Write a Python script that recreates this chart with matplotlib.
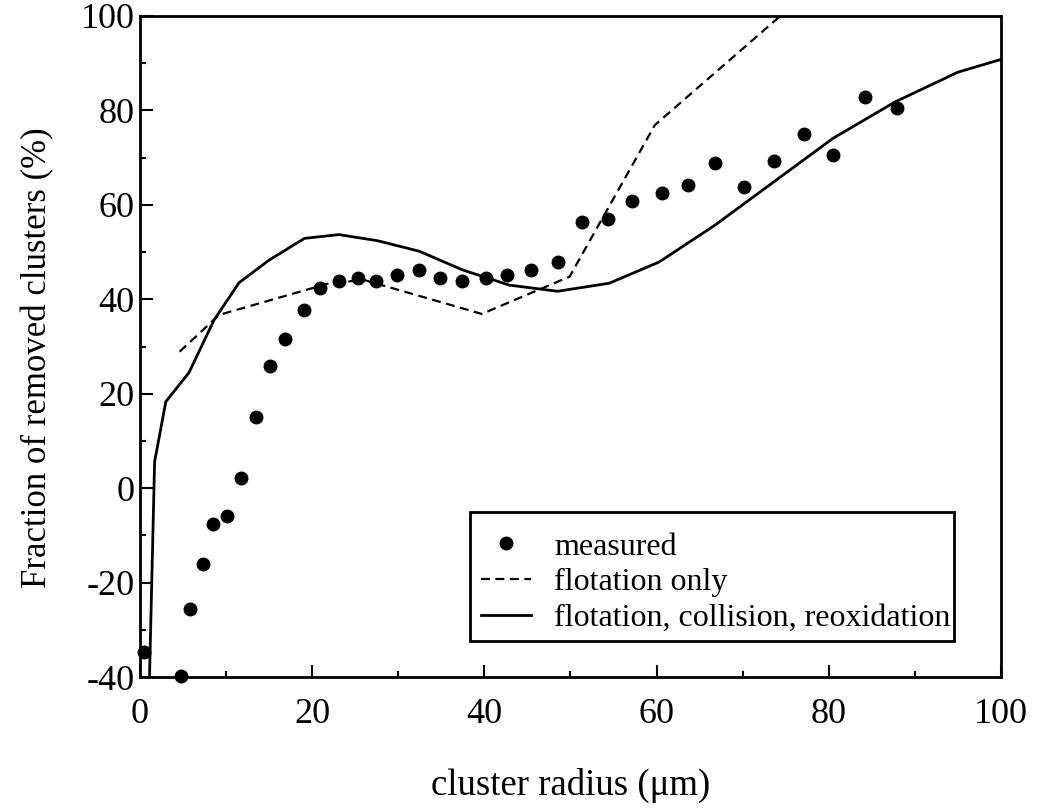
import matplotlib
matplotlib.use('Agg')
import matplotlib.pyplot as plt
from matplotlib.ticker import MultipleLocator
from matplotlib.patches import Rectangle

plt.rcParams['font.family'] = ['Liberation Serif', 'DejaVu Serif']
plt.rcParams['axes.unicode_minus'] = False

# measured removal fraction
meas_r = [0.5, 4.8, 5.8, 7.3, 8.5, 10.1, 11.7, 13.5, 15.1, 16.9, 19.1, 20.9,
          23.1, 25.3, 27.4, 29.9, 32.4, 34.9, 37.4, 40.2, 42.6, 45.4, 48.5,
          51.3, 54.4, 57.2, 60.6, 63.7, 66.8, 70.2, 73.6, 77.1, 80.5, 84.2, 87.9]
meas_f = [-34.7, -39.7, -25.6, -16.0, -7.5, -5.9, 2.1, 15.1, 25.9, 31.5, 37.7, 42.3,
          43.9, 44.5, 43.9, 45.1, 46.2, 44.5, 43.9, 44.5, 45.1, 46.2, 47.9,
          56.4, 56.9, 60.9, 62.6, 64.3, 68.8, 63.7, 69.3, 75.0, 70.5, 82.9, 80.6]

# model: flotation only
flot_r = [4.6, 9.2, 22.0, 26.0, 39.7, 49.9, 59.8, 74.5]
flot_f = [28.9, 36.7, 43.4, 44.1, 36.9, 44.8, 76.9, 100.2]

# model: flotation, collision, reoxidation
full_r = [1.1, 1.7, 3.0, 5.7, 8.6, 11.5, 15.0, 19.1, 23.1, 27.6, 32.4, 37.5,
          42.9, 48.5, 54.5, 60.3, 66.7, 80.5, 87.7, 95.0, 100.0]
full_f = [-40.5, 5.6, 18.3, 24.5, 35.6, 43.5, 48.3, 52.9, 53.7, 52.4, 50.2, 46.2,
          43.0, 41.7, 43.4, 47.9, 55.6, 74.1, 81.8, 88.1, 90.8]

fig = plt.figure(figsize=(10.43, 8.08), dpi=100)
ax = fig.add_axes([0.1342, 0.1621, 0.8255, 0.8181])

ax.plot(meas_r, meas_f, 'o', color='black', markersize=9, label='measured', clip_on=False)
ax.plot(flot_r, flot_f, color='black', lw=1.6, linestyle=(0, (4, 2.5)), label='flotation only')
ax.plot(full_r, full_f, color='black', lw=2, label='flotation, collision, reoxidation')

ax.set_xlim(0, 100)
ax.set_ylim(-40, 100)
ax.xaxis.set_major_locator(MultipleLocator(20))
ax.xaxis.set_minor_locator(MultipleLocator(10))
ax.yaxis.set_major_locator(MultipleLocator(20))
ax.yaxis.set_minor_locator(MultipleLocator(10))
ax.tick_params(which='both', direction='in', top=False, right=False, width=1.5, labelsize=26)
ax.tick_params(which='major', length=9)
ax.tick_params(which='minor', length=4.5)
ax.tick_params(axis='x', pad=15)
ax.tick_params(axis='y', pad=4)
for sp in ax.spines.values():
    sp.set_linewidth(2)

ax.set_xlabel('cluster radius (μm)', fontsize=26.5, labelpad=27)
ax.set_ylabel('Fraction of removed clusters (%)', fontsize=25, labelpad=19)
ax.yaxis.label.set_y(0.483)

# legend without its own frame, box drawn separately
leg = ax.legend(loc='upper left', bbox_to_anchor=(0.3961, 0.2190), borderaxespad=0,
                fontsize=23, frameon=False, handlelength=1.55,
                labelspacing=0.2, borderpad=0, handletextpad=0.75)
ax.add_patch(Rectangle((0.3833, 0.0545), 0.5621, 0.1952, transform=ax.transAxes,
                       fill=False, edgecolor='black', lw=2, zorder=5))

plt.savefig('out.png', dpi=100)
